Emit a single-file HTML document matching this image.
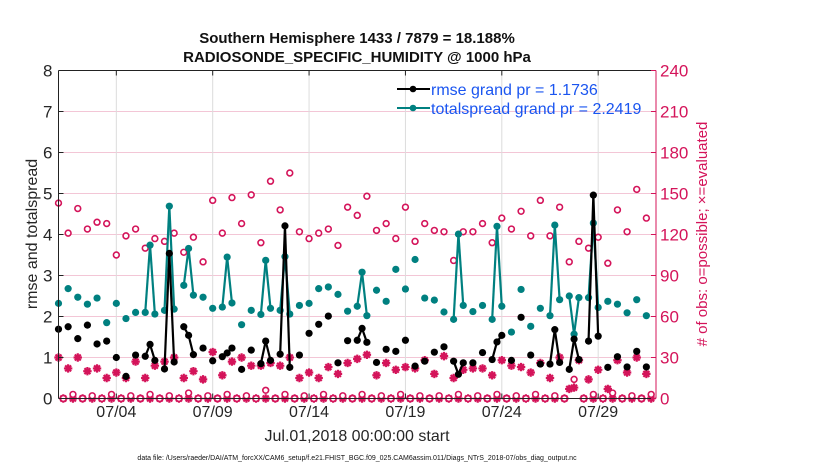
<!DOCTYPE html>
<html><head><meta charset="utf-8"><style>
body{margin:0;background:#fff;}
svg{display:block;font-family:"Liberation Sans",Arial,sans-serif;}
</style></head><body>
<svg id="chart" width="830" height="470" viewBox="0 0 830 470" xmlns="http://www.w3.org/2000/svg" style="position:absolute;left:0;top:0">
<rect width="830" height="470" fill="#fff"/>
<g id="grid"></g>
<g id="series"></g>
<g id="axes"></g>
</svg>
<script>
// ---- data (main 00Z/12Z times: index i = 0,2,4,...,122; day = i*0.25) ----
const mainRmse = [1.69,1.75,1.46,1.79,1.33,1.40,1.00,0.54,1.06,1.03,0.93,0.72,0.89,1.75,1.07,1.23,0.92,1.02,1.23,0.71,1.18,0.85,0.93,1.08,0.76,1.06,1.59,1.81,2.01,0.87,1.41,1.42,1.37,0.88,1.20,1.15,1.42,0.79,0.91,1.13,1.26,0.91,0.87,0.87,1.12,0.95,1.54,0.93,1.98,1.06,0.84,0.84,0.88,0.71,0.95,1.40,1.52,0.76,1.02,0.77,1.15,0.77];
const mainSpread = [2.32,2.68,2.47,2.30,2.45,1.85,2.32,1.95,2.10,2.10,2.06,2.15,2.18,2.76,2.52,2.47,2.20,2.23,2.33,1.80,2.15,2.05,2.20,2.15,2.06,2.27,2.32,2.68,2.72,2.54,2.13,2.25,2.02,2.64,2.37,3.15,2.67,3.39,2.45,2.40,2.11,1.93,2.27,2.12,2.27,1.93,2.25,1.62,2.66,1.76,2.20,2.02,2.41,2.50,2.46,2.46,2.22,2.37,2.30,2.09,2.41,2.02];
const mainPossible = [143,121,139,124,129,128,105,119,124,110,117,115,121,107,118,100,145,121,147,128,149,114,159,138,165,122,117,121,124,112,140,134,148,123,128,117,140,115,128,123,122,101,122,122,128,114,132,124,137,119,145,119,140,100,115,110,118,99,138,122,153,132];
const mainEvaluated = [30,22,30,20,22,15,19,15,27,15,24,27,30,15,20,14,34,17,27,30,24,24,26,24,30,15,19,15,23,18,26,29,32,17,26,21,23,22,28,18,31,15,21,22,22,17,28,24,23,19,26,15,30,7,28,14,21,7,28,19,30,18];
// ---- off-times (06Z/18Z: index i = 1,3,...,123) ----
const offPossible = [0,3,0,2,0,3,0,2,0,3,0,2,0,4,0,2,0,3,0,2,0,6,0,3,0,2,0,3,0,2,0,3,0,2,0,3,0,2,0,2,0,3,0,2,0,3,0,2,0,3,0,2,0,14,0,3,0,4,0,2,0,3];
const offEvaluated = [0,0,0,0,0,0,0,0,0,0,0,0,0,0,0,0,0,0,0,0,0,0,0,0,0,0,0,0,0,0,0,0,0,0,0,0,0,0,0,0,0,0,0,0,0,0,0,0,0,0,0,0,0,8,0,0,0,0,0,0,0,0];
// ---- extra analysed off-times (spikes) ----
const spikeIdx = [19,23,27,35,43,47,63,83,91,103,107,111];
const spikeRmse = [1.32,3.54,1.54,1.11,1.40,4.21,1.71,0.59,1.38,1.68,1.45,4.96];
const spikeSpread = [3.74,4.69,3.66,3.45,3.37,3.46,3.08,4.01,4.20,4.23,1.57,4.28];
const tickDays = [3,8,13,18,23,28];
const tickLabels = ["07/04","07/09","07/14","07/19","07/24","07/29"];
const leftTicks = [0,1,2,3,4,5,6,7,8];
const rightTicks = [0,30,60,90,120,150,180,210,240];

const X0=58.5,X1=656,Y0=398.5,Y1=70.5,D0=0,D1=31;
const xs=d=>X0+(d-D0)/(D1-D0)*(X1-X0);
const yl=v=>Y0-v/8*(Y0-Y1);
const yr=v=>Y0-v/240*(Y0-Y1);
const NS='http://www.w3.org/2000/svg';
const CR='#d4145a', TEAL='#008080';
function mk(tag,attrs,parent){const e=document.createElementNS(NS,tag);for(const k in attrs)e.setAttribute(k,attrs[k]);parent.appendChild(e);return e;}
const grid=document.getElementById('grid'),ser=document.getElementById('series'),ax=document.getElementById('axes');

leftTicks.forEach(v=>{if(v>0&&v<8){const l=mk('line',{x1:X0,x2:X1,y1:yl(v),y2:yl(v),stroke:'#f3c6d6','stroke-width':1},grid);

}});
tickDays.forEach(d=>{const l=mk('line',{x1:xs(d),x2:xs(d),y1:Y0,y2:Y1,stroke:'#dcdcdc','stroke-width':1},grid);

});

const N=124;const rm=new Array(N).fill(null),sp=new Array(N).fill(null),po=new Array(N).fill(null),ev=new Array(N).fill(null);
mainRmse.forEach((v,k)=>{rm[2*k]=v;sp[2*k]=mainSpread[k];po[2*k]=mainPossible[k];ev[2*k]=mainEvaluated[k];});
offPossible.forEach((v,k)=>{po[2*k+1]=v;ev[2*k+1]=offEvaluated[k];});
spikeIdx.forEach((i,k)=>{rm[i]=spikeRmse[k];sp[i]=spikeSpread[k];});
const day=i=>i*0.25;

function star(cx,cy,g){const r=4.2;let d='';for(let a=0;a<4;a++){const t=a*Math.PI/4;d+=`M${cx-r*Math.cos(t)},${cy-r*Math.sin(t)}L${cx+r*Math.cos(t)},${cy+r*Math.sin(t)}`;}
const p=mk('path',{d:d,stroke:CR,'stroke-width':2.2,fill:'none'},g);

}

const gObs=mk('g',{},ser);


for(let i=0;i<N;i++){
 if(ev[i]!==null) star(xs(day(i)),yr(ev[i]),gObs);
 if(po[i]!==null){const c=mk('circle',{cx:xs(day(i)),cy:yr(po[i]),r:2.9,fill:'#fff',stroke:CR,'stroke-width':1.6},gObs);
 
 }
}
function drawLine(arr,color,name){
 const g=mk('g',{},ser);
 
 
 for(let i=0;i<N-1;i++){if(arr[i]!==null&&arr[i+1]!==null){mk('line',{x1:xs(day(i)),y1:yl(arr[i]),x2:xs(day(i+1)),y2:yl(arr[i+1]),stroke:color,'stroke-width':2.2},g);}}
 for(let i=0;i<N;i++){if(arr[i]!==null){const c=mk('circle',{cx:xs(day(i)),cy:yl(arr[i]),r:3.6,fill:color},g);
 
 }}
}
drawLine(sp,TEAL,'totalspread-series');
drawLine(rm,'#000','rmse-series');

mk('line',{x1:X0,x2:X1,y1:Y1,y2:Y1,stroke:'#222','stroke-width':1},ax);
mk('line',{x1:X0,x2:X1,y1:Y0,y2:Y0,stroke:'#222','stroke-width':1},ax);
mk('line',{x1:X0,x2:X0,y1:Y0,y2:Y1,stroke:'#222','stroke-width':1},ax);
mk('line',{x1:X1,x2:X1,y1:Y0,y2:Y1,stroke:CR,'stroke-width':1},ax);
leftTicks.forEach(v=>{mk('line',{x1:X0,x2:X0+5,y1:yl(v),y2:yl(v),stroke:'#222'},ax);
 const t=mk('text',{x:52.5,y:yl(v)+6,'text-anchor':'end','font-size':17,fill:'#262626'},ax);t.textContent=v;
 
 });
rightTicks.forEach(v=>{mk('line',{x1:X1-5,x2:X1,y1:yr(v),y2:yr(v),stroke:CR},ax);
 const t=mk('text',{x:660,y:yr(v)+6,'font-size':17,fill:CR},ax);t.textContent=v;
 
 });
tickDays.forEach((d,k)=>{mk('line',{x1:xs(d),x2:xs(d),y1:Y0,y2:Y0-5,stroke:'#222'},ax);mk('line',{x1:xs(d),x2:xs(d),y1:Y1,y2:Y1+5,stroke:'#222'},ax);
 const t=mk('text',{x:xs(d),y:417,'text-anchor':'middle','font-size':16,fill:'#262626'},ax);t.textContent=tickLabels[k];
 
 });
</script>
<svg style="position:absolute;left:0;top:0" width="830" height="470">
<text x="357" y="43" text-anchor="middle" font-family="Liberation Sans,Arial,sans-serif" font-size="15" font-weight="bold" fill="#111">Southern Hemisphere 1433 / 7879 = 18.188%</text>
<text x="357" y="62" text-anchor="middle" font-family="Liberation Sans,Arial,sans-serif" font-size="15" font-weight="bold" fill="#111">RADIOSONDE_SPECIFIC_HUMIDITY @ 1000 hPa</text>
<g>
<line x1="397" x2="430" y1="89" y2="89" stroke="#000" stroke-width="2"/><circle cx="413" cy="89" r="3.3" fill="#000"/>
<text x="431" y="95" font-family="Liberation Sans,Arial,sans-serif" font-size="16" fill="#1a55f0">rmse grand pr = 1.1736</text>
<line x1="397" x2="430" y1="108" y2="108" stroke="#008080" stroke-width="2"/><circle cx="413" cy="108" r="3.3" fill="#008080"/>
<text x="431" y="114" font-family="Liberation Sans,Arial,sans-serif" font-size="16" fill="#1a55f0">totalspread grand pr = 2.2419</text>
</g>
<text transform="translate(37,234) rotate(-90)" text-anchor="middle" font-family="Liberation Sans,Arial,sans-serif" font-size="16" fill="#262626">rmse and totalspread</text>
<text transform="translate(707,234) rotate(-90)" text-anchor="middle" font-family="Liberation Sans,Arial,sans-serif" font-size="15" fill="#d4145a"># of obs: o=possible; ×=evaluated</text>
<text x="357" y="441" text-anchor="middle" font-family="Liberation Sans,Arial,sans-serif" font-size="16" fill="#262626">Jul.01,2018 00:00:00 start</text>
<text x="357" y="460" text-anchor="middle" font-family="Liberation Sans,Arial,sans-serif" font-size="7" fill="#111">data file: /Users/raeder/DAI/ATM_forcXX/CAM6_setup/f.e21.FHIST_BGC.f09_025.CAM6assim.011/Diags_NTrS_2018-07/obs_diag_output.nc</text>
</svg>
</body></html>
